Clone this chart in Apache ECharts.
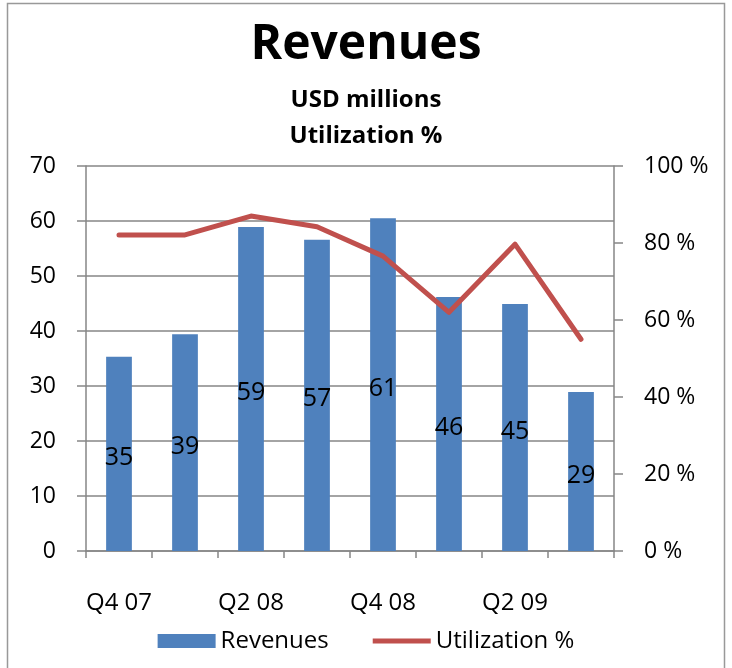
<!DOCTYPE html>
<html>
<head>
<meta charset="utf-8">
<script src="https://cdn.jsdelivr.net/npm/echarts@6/dist/echarts.min.js"></script>
<style>
  html, body { margin: 0; padding: 0; background: #fff; }
  #chart { width: 732px; height: 668px; }
</style>
</head>
<body>
<div id="chart"></div>
<script>
const quarters = ['Q4 07', 'Q1 08', 'Q2 08', 'Q3 08', 'Q4 08', 'Q1 09', 'Q2 09', 'Q3 09'];
const revenues = [35.3, 39.4, 58.9, 56.6, 60.5, 46.2, 44.9, 28.9];
const utilization = [82.1, 82.1, 87, 84.2, 76.6, 62, 79.7, 55];
const revenueTicks = [0, 10, 20, 30, 40, 50, 60, 70];
const utilTicks = [0, 20, 40, 60, 80, 100];

const font = '"Open Sans", sans-serif';
const gray = '#868686';

const chart = echarts.init(document.getElementById('chart'));

const option = {
  animation: false,
  textStyle: { fontFamily: font },
  title: [
    {
      text: 'Revenues',
      left: 'center',
      top: 16,
      textStyle: { fontSize: 48, fontWeight: 'bold', color: '#000', fontFamily: font }
    },
    {
      text: 'USD millions\nUtilization %',
      left: 'center',
      top: 77,
      textStyle: { fontSize: 24, fontWeight: 'bold', color: '#000', lineHeight: 36, fontFamily: font }
    }
  ],
  graphic: [{
    type: 'rect',
    shape: { x: 7.5, y: 3.5, width: 717, height: 680 },
    style: { fill: 'none', stroke: '#999', lineWidth: 1.5 },
    silent: true
  }],
  legend: {
    bottom: 10,
    left: 'center',
    itemWidth: 58,
    itemHeight: 14,
    itemGap: 44,
    textStyle: { fontSize: 24, color: '#000', fontFamily: font },
    data: [
      { name: 'Revenues', icon: 'rect' },
      { name: 'Utilization %', icon: 'path://M0,0 L60,0 L60,5 L0,5 Z' }
    ]
  },
  grid: { left: 86, right: 118, top: 166, bottom: 117 },
  xAxis: {
    type: 'category',
    data: quarters,
    boundaryGap: true,
    axisLine: { lineStyle: { color: gray, width: 1.5 } },
    axisTick: { show: true, alignWithLabel: false, interval: 0, length: 7, lineStyle: { color: gray, width: 1.5 } },
    axisLabel: { interval: 1, margin: 40, fontSize: 24, color: '#000', fontFamily: font },
    splitLine: { show: false }
  },
  yAxis: [
    {
      type: 'value',
      min: revenueTicks[0],
      max: revenueTicks[revenueTicks.length - 1],
      interval: 10,
      axisLine: { show: true, lineStyle: { color: gray, width: 1.5 } },
      axisTick: { show: true, length: 9, lineStyle: { color: gray, width: 1.5 } },
      axisLabel: { fontSize: 23, color: '#000', margin: 30, fontFamily: font },
      splitLine: { show: true, lineStyle: { color: gray, width: 1.5 } }
    },
    {
      type: 'value',
      min: utilTicks[0],
      max: utilTicks[utilTicks.length - 1],
      interval: 20,
      axisLine: { show: true, lineStyle: { color: gray, width: 1.5 } },
      axisTick: { show: true, length: 9, lineStyle: { color: gray, width: 1.5 } },
      axisLabel: { fontSize: 23, color: '#000', margin: 30, formatter: '{value} %', fontFamily: font },
      splitLine: { show: false }
    }
  ],
  series: [
    {
      name: 'Revenues',
      type: 'bar',
      data: revenues,
      barWidth: '39%',
      itemStyle: { color: '#4F81BD' },
      label: {
        show: true,
        position: 'inside',
        offset: [0, 4],
        fontSize: 25,
        color: '#000',
        fontFamily: font,
        formatter: p => Math.round(p.value)
      }
    },
    {
      name: 'Utilization %',
      type: 'line',
      yAxisIndex: 1,
      data: utilization,
      symbol: 'none',
      lineStyle: { color: '#C0504D', width: 5, cap: 'round', join: 'round' },
      itemStyle: { color: '#C0504D' },
      z: 3
    }
  ]
};

chart.setOption(option);
</script>
</body>
</html>
